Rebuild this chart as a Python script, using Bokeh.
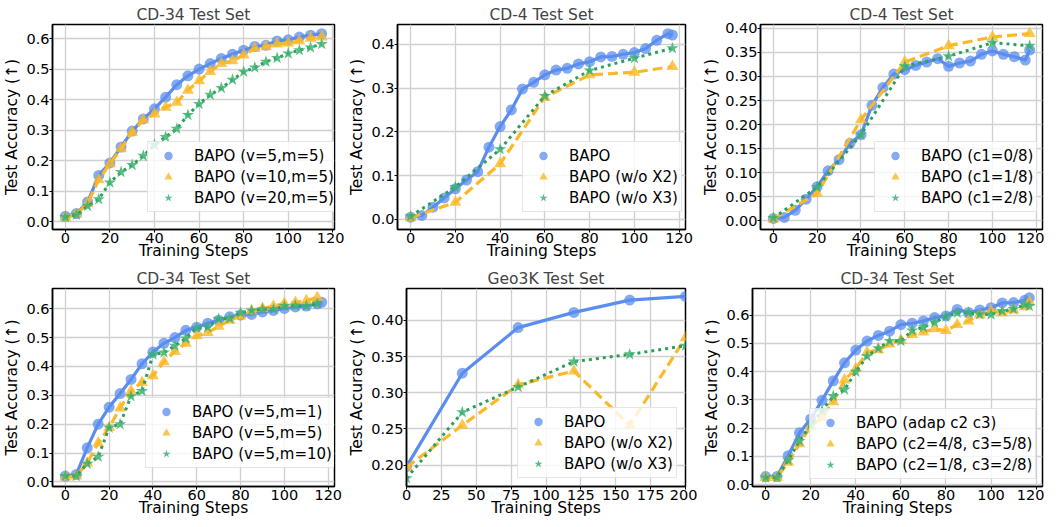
from bokeh.plotting import figure
from bokeh.layouts import column, row
from bokeh.models import Range1d, FixedTicker, Legend, LegendItem, NumeralTickFormatter
from bokeh.embed import file_html
from bokeh.resources import INLINE

FONT = "DejaVu Sans"
BLUE = "#5B8DEF"
ORANGE = "#F9B928"
GREEN = "#2E9E5B"
GREEN_M = "#3CB371"

# ---------------- data ----------------
steps_a = list(range(0, 120, 5))            # 0..115
steps_b = list(range(0, 120, 5)) + [117]    # 0..115, 117
steps_c = [0, 20, 40, 60, 80, 100, 117]
steps_geo = [0, 40, 80, 120, 160, 200]

# Panel 1: CD-34, v / m
p1_v5m5 = [0.018, 0.027, 0.065, 0.152, 0.193, 0.245, 0.297, 0.337, 0.370, 0.408, 0.449, 0.478,
           0.500, 0.518, 0.535, 0.549, 0.562, 0.574, 0.578, 0.592, 0.596, 0.605, 0.611, 0.616]
p1_v10m5 = [0.015, 0.025, 0.060, 0.138, 0.190, 0.239, 0.293, 0.334, 0.353, 0.375, 0.391, 0.431,
            0.462, 0.492, 0.518, 0.527, 0.546, 0.567, 0.573, 0.582, 0.585, 0.592, 0.601, 0.605]
p1_v20m5 = [0.016, 0.023, 0.052, 0.074, 0.129, 0.163, 0.186, 0.216, 0.252, 0.278, 0.305, 0.350,
            0.386, 0.416, 0.438, 0.465, 0.491, 0.505, 0.524, 0.536, 0.551, 0.562, 0.571, 0.582]

# Panel 2: CD-4, ablation X2 / X3
p2_bapo = [0.005, 0.009, 0.028, 0.049, 0.070, 0.090, 0.109, 0.165, 0.212, 0.250, 0.298, 0.313,
           0.330, 0.341, 0.345, 0.355, 0.360, 0.371, 0.372, 0.377, 0.381, 0.390, 0.409, 0.424, 0.421]
p2_wo_x2 = [0.004, 0.039, 0.127, 0.279, 0.330, 0.336, 0.349]
p2_wo_x3 = [0.007, 0.074, 0.160, 0.282, 0.340, 0.368, 0.391]

# Panel 3: CD-4, c1
p3_c1_0 = [0.005, 0.007, 0.022, 0.045, 0.071, 0.104, 0.127, 0.161, 0.179, 0.240, 0.277, 0.305,
           0.314, 0.323, 0.330, 0.337, 0.321, 0.328, 0.332, 0.346, 0.353, 0.346, 0.341, 0.334, 0.355]
p3_c1_1 = [0.004, 0.057, 0.210, 0.330, 0.364, 0.382, 0.389]
p3_c1_2 = [0.006, 0.070, 0.179, 0.321, 0.342, 0.370, 0.364]

# Panel 4: CD-34, m
p4_v5m1 = [0.020, 0.026, 0.118, 0.200, 0.259, 0.306, 0.355, 0.409, 0.450, 0.480, 0.500, 0.525,
           0.536, 0.550, 0.560, 0.572, 0.578, 0.580, 0.589, 0.594, 0.601, 0.606, 0.609, 0.617, 0.622]
p4_v5m5 = [0.017, 0.020, 0.065, 0.135, 0.188, 0.256, 0.315, 0.345, 0.368, 0.416, 0.452, 0.480,
           0.506, 0.517, 0.539, 0.560, 0.575, 0.592, 0.601, 0.609, 0.618, 0.622, 0.628, 0.639]
p4_v5m10 = [0.020, 0.020, 0.063, 0.087, 0.188, 0.200, 0.297, 0.315, 0.441, 0.448, 0.472, 0.497,
            0.533, 0.536, 0.564, 0.566, 0.586, 0.594, 0.598, 0.598, 0.609, 0.611, 0.609, 0.617]

# Panel 5: Geo3K, ablation X2 / X3
p5_bapo = [0.198, 0.327, 0.390, 0.411, 0.428, 0.433]
p5_wo_x2 = [0.197, 0.255, 0.311, 0.330, 0.255, 0.376]
p5_wo_x3 = [0.182, 0.273, 0.308, 0.343, 0.353, 0.365]

# Panel 6: CD-34, c2 / c3
p6_adap = [0.028, 0.028, 0.102, 0.183, 0.232, 0.298, 0.367, 0.431, 0.476, 0.508, 0.528, 0.543,
           0.566, 0.571, 0.579, 0.591, 0.597, 0.620, 0.609, 0.618, 0.626, 0.643, 0.644, 0.652, 0.661]
p6_c48 = [0.025, 0.025, 0.079, 0.144, 0.206, 0.236, 0.293, 0.370, 0.410, 0.468, 0.477, 0.497,
          0.511, 0.531, 0.540, 0.551, 0.545, 0.566, 0.579, 0.600, 0.615, 0.608, 0.618, 0.629, 0.646]
p6_c18 = [0.025, 0.025, 0.086, 0.154, 0.211, 0.261, 0.313, 0.336, 0.399, 0.454, 0.482, 0.508,
          0.508, 0.545, 0.557, 0.574, 0.594, 0.608, 0.608, 0.603, 0.602, 0.614, 0.621, 0.637, 0.632]

ticks_steps = [0, 20, 40, 60, 80, 100, 120]
ticks_geo = [0, 25, 50, 75, 100, 125, 150, 175, 200]
ticks_y1 = [0.0, 0.1, 0.2, 0.3, 0.4, 0.5, 0.6]
ticks_y2 = [0.0, 0.1, 0.2, 0.3, 0.4]
ticks_y3 = [0.0, 0.05, 0.10, 0.15, 0.20, 0.25, 0.30, 0.35, 0.40]
ticks_y5 = [0.20, 0.25, 0.30, 0.35, 0.40]


def panel(title, series, xr, yr, xticks, yticks, yfmt, w, h, borders, leg_loc):
    bl, br, bt, bb = borders
    p = figure(width=w, height=h, output_backend="svg", toolbar_location=None,
               x_range=Range1d(*xr), y_range=Range1d(*yr),
               min_border_left=bl, min_border_right=br, min_border_top=bt, min_border_bottom=bb,
               background_fill_color="white", border_fill_color="white")
    p.title.text = title
    p.title.text_font = FONT
    p.title.text_font_size = "15.5px"
    p.title.text_font_style = "normal"
    p.title.align = "center"
    p.title.standoff = 1
    p.title.offset = 0

    p.outline_line_color = "black"
    p.outline_line_width = 1.5
    p.outline_line_alpha = 1.0

    p.xaxis.ticker = FixedTicker(ticks=xticks)
    p.yaxis.ticker = FixedTicker(ticks=yticks)
    p.yaxis.formatter = NumeralTickFormatter(format=yfmt)
    p.xaxis.axis_label = "Training Steps"
    p.yaxis.axis_label = "Test Accuracy (\u2191)"
    for ax in (p.xaxis, p.yaxis):
        ax.axis_label_text_font = FONT
        ax.axis_label_text_font_size = "15.5px"
        ax.axis_label_text_font_style = "normal"
        ax.axis_label_text_color = "black"
        ax.major_label_text_font = FONT
        ax.major_label_text_font_size = "14.5px"
        ax.major_label_text_color = "black"
        ax.axis_line_color = "black"
        ax.axis_line_width = 1.5
        ax.major_tick_in = 0
        ax.major_tick_out = 3
        ax.major_tick_line_color = "black"
        ax.minor_tick_line_color = None
        ax.major_label_standoff = 0
    p.xaxis.axis_label_standoff = -4
    p.yaxis.axis_label_standoff = 2

    p.grid.grid_line_color = "#d0d0d0"
    p.grid.grid_line_width = 1.3

    items = []
    for xs, ys, label, kind in series:
        if kind == "blue":
            p.line(xs, ys, line_color=BLUE, line_width=3.2)
            r = p.scatter(xs, ys, marker="circle", size=11, fill_color=BLUE, fill_alpha=0.75,
                          line_color=None)
        elif kind == "orange":
            p.line(xs, ys, line_color=ORANGE, line_width=3.2, line_dash="10 5")
            r = p.scatter(xs, ys, marker="triangle", size=12, fill_color=ORANGE, fill_alpha=0.8,
                          line_color=None)
        else:
            p.line(xs, ys, line_color=GREEN, line_width=3.0, line_dash="3 4")
            r = p.scatter(xs, ys, marker="star", size=13, fill_color=GREEN_M, fill_alpha=0.85,
                          line_color=None)
        items.append(LegendItem(label=label, renderers=[r]))

    leg = Legend(items=items, location=leg_loc)
    leg.label_text_font = FONT
    leg.label_text_font_size = "15px"
    leg.label_text_color = "black"
    leg.background_fill_color = "white"
    leg.background_fill_alpha = 0.8
    leg.border_line_color = "#cccccc"
    leg.border_line_width = 1
    leg.padding = 3
    leg.spacing = 0
    leg.margin = 0
    leg.glyph_width = 34
    leg.glyph_height = 21
    leg.label_height = 21
    leg.label_standoff = 9
    p.add_layout(leg)
    return p


W1, W2, W3 = 344, 353, 347
H1, H2 = 262, 257

f1 = panel("CD-34 Test Set",
           [(steps_a, p1_v5m5, "BAPO (v=5,m=5)", "blue"),
            (steps_a, p1_v10m5, "BAPO (v=10,m=5)", "orange"),
            (steps_a, p1_v20m5, "BAPO (v=20,m=5)", "green")],
           (-5.75, 120.75), (-0.025, 0.646), ticks_steps, ticks_y1, "0.0",
           W1, H1, (44, 10, 24, 32), (95, 17))
f2 = panel("CD-4 Test Set",
           [(steps_b, p2_bapo, "BAPO", "blue"),
            (steps_c, p2_wo_x2, "BAPO (w/o X2)", "orange"),
            (steps_c, p2_wo_x3, "BAPO (w/o X3)", "green")],
           (-5.85, 122.85), (-0.023, 0.445), ticks_steps, ticks_y2, "0.0",
           W2, H1, (53, 12, 24, 32), (125, 17))
f3 = panel("CD-4 Test Set",
           [(steps_b, p3_c1_0, "BAPO (c1=0/8)", "blue"),
            (steps_c, p3_c1_1, "BAPO (c1=1/8)", "orange"),
            (steps_c, p3_c1_2, "BAPO (c1=2/8)", "green")],
           (-5.85, 122.85), (-0.018, 0.408), ticks_steps, ticks_y3, "0.00",
           W3, H1, (63, 2, 24, 32), (114, 17))
f4 = panel("CD-34 Test Set",
           [(steps_b, p4_v5m1, "BAPO (v=5,m=1)", "blue"),
            (steps_a, p4_v5m5, "BAPO (v=5,m=5)", "orange"),
            (steps_a, p4_v5m10, "BAPO (v=5,m=10)", "green")],
           (-5.85, 122.85), (-0.016, 0.670), ticks_steps, ticks_y1, "0.0",
           W1, H2, (44, 10, 26, 28), (93, 18))
f5 = panel("Geo3K Test Set",
           [(steps_geo, p5_bapo, "BAPO", "blue"),
            (steps_geo, p5_wo_x2, "BAPO (w/o X2)", "orange"),
            (steps_geo, p5_wo_x3, "BAPO (w/o X3)", "green")],
           (0, 200), (0.1705, 0.444), ticks_geo, ticks_y5, "0.00",
           W2, H2, (62, 12, 26, 28), (111, 8))
f6 = panel("CD-34 Test Set",
           [(steps_b, p6_adap, "BAPO (adap c2 c3)", "blue"),
            (steps_b, p6_c48, "BAPO (c2=4/8, c3=5/8)", "orange"),
            (steps_b, p6_c18, "BAPO (c2=1/8, c3=2/8)", "green")],
           (-5.85, 122.85), (-0.007, 0.694), ticks_steps, ticks_y1, "0.0",
           W3, H2, (55, 2, 26, 28), (57, 7))

layout = column(row(f1, f2, f3), row(f4, f5, f6))
open("out.html", "w").write(file_html(layout, INLINE))
